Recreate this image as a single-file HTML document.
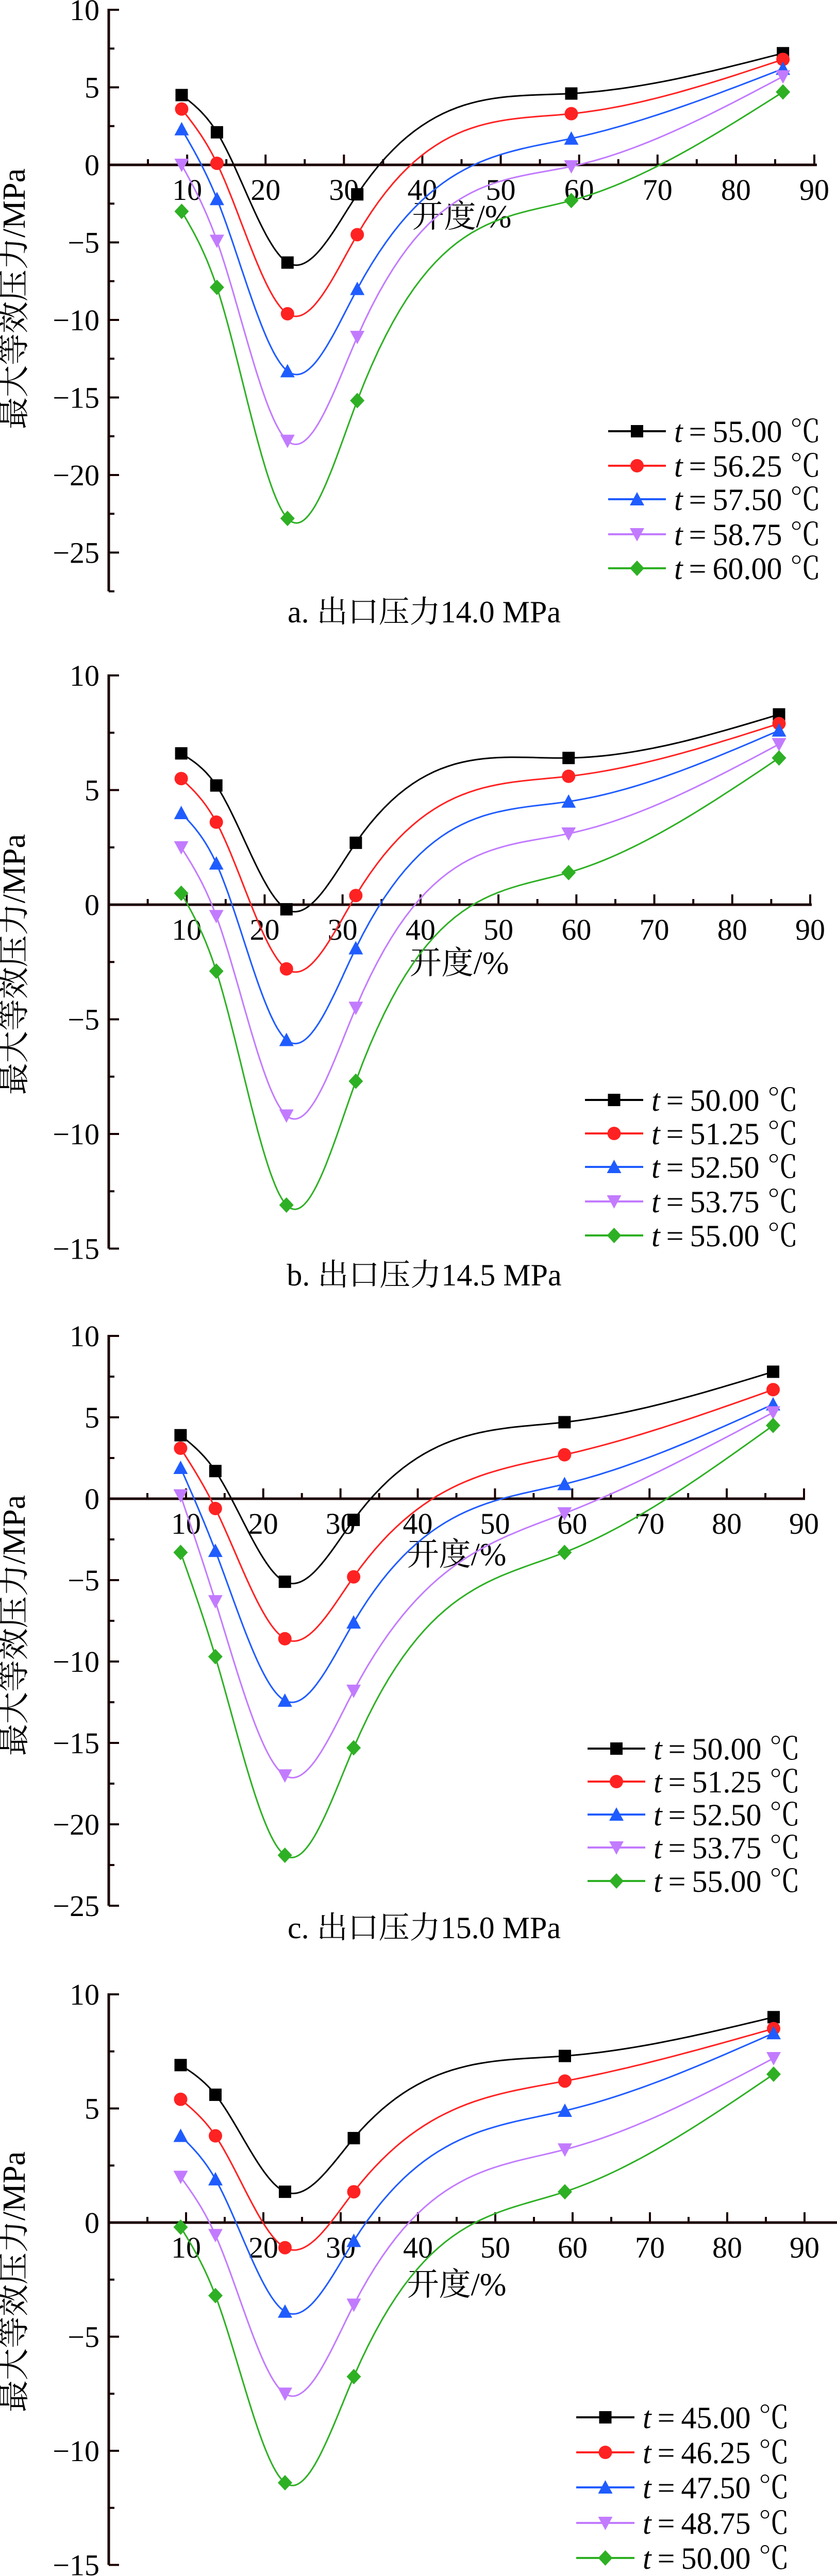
<!DOCTYPE html>
<html><head><meta charset="utf-8">
<style>
html,body{margin:0;padding:0;background:#fff;overflow:hidden;width:1624px;height:5086px;}
svg{display:block;}
text{font-family:"Liberation Serif","Noto Serif CJK SC",serif;fill:#000;}
</style></head>
<body>
<svg id="fig" width="1624" height="5086" viewBox="0 0 1624 5086" xmlns="http://www.w3.org/2000/svg" overflow="hidden"></svg>
<script>
// ---- data ----
const openings = [9.3, 13.8, 22.8, 31.7, 59, 86];
const xTicks = [10, 20, 30, 40, 50, 60, 70, 80, 90];

const aLabels = ["55.00", "56.25", "57.50", "58.75", "60.00"];
const aBlack = [4.5, 2.1, -6.3, -1.9, 4.6, 7.2];
const aRed = [3.6, 0.1, -9.6, -4.5, 3.3, 6.8];
const aBlue = [2.3, -2.2, -13.3, -8.0, 1.7, 6.2];
const aPurple = [0.0, -4.9, -17.8, -11.1, -0.1, 5.7];
const aGreen = [-3.0, -7.9, -22.8, -15.2, -2.3, 4.7];
const aYTicks = [10, 5, 0, -5, -10, -15, -20, -25];

const bLabels = ["50.00", "51.25", "52.50", "53.75", "55.00"];
const bBlack = [6.6, 5.2, -0.2, 2.7, 6.4, 8.3];
const bRed = [5.5, 3.6, -2.8, 0.4, 5.6, 7.9];
const bBlue = [4.0, 1.8, -5.9, -1.9, 4.5, 7.6];
const bPurple = [2.5, -0.5, -9.2, -4.5, 3.1, 7.0];
const bGreen = [0.5, -2.9, -13.1, -7.7, 1.4, 6.4];
const bYTicks = [10, 5, 0, -5, -10, -15];

const cLabels = ["50.00", "51.25", "52.50", "53.75", "55.00"];
const cBlack = [3.9, 1.7, -5.1, -1.3, 4.7, 7.8];
const cRed = [3.1, -0.6, -8.6, -4.8, 2.7, 6.7];
const cBlue = [1.9, -3.2, -12.4, -7.6, 0.9, 5.8];
const cPurple = [0.2, -6.3, -17.0, -11.8, -0.9, 5.3];
const cGreen = [-3.3, -9.7, -21.9, -15.3, -3.3, 4.5];
const cYTicks = [10, 5, 0, -5, -10, -15, -20, -25];

const dLabels = ["45.00", "46.25", "47.50", "48.75", "50.00"];
const dBlack = [6.9, 5.6, 1.35, 3.7, 7.3, 9.0];
const dRed = [5.4, 3.8, -1.1, 1.35, 6.2, 8.5];
const dBlue = [3.8, 1.9, -3.9, -0.8, 4.9, 8.3];
const dPurple = [2.0, -0.55, -7.5, -3.6, 3.2, 7.2];
const dGreen = [-0.2, -3.2, -11.4, -6.75, 1.35, 6.5];
const dYTicks = [10, 5, 0, -5, -10, -15];

const captions = ["a. 出口压力14.0 MPa", "b. 出口压力14.5 MPa", "c. 出口压力15.0 MPa", "d. 出口压力15.5 MPa"];

// ---- style / layout ----
const colors = ["#000000", "#ff2222", "#1f5cff", "#c27bff", "#2eb024"];
const shapes = ["square", "circle", "up", "down", "diamond"];
const NS = "http://www.w3.org/2000/svg";
const svg = document.getElementById("fig");

const layouts = [
  {id:"a", series:[aBlack,aRed,aBlue,aPurple,aGreen], labels:aLabels, yTicks:aYTicks,
   x0:211, x90:1580, yTop:10, yTopPx:19, zeroPx:320, yBottom:-27.5, axisEnd:1585,
   legX:1180, legLen:112, legY:[837,904,969,1037,1103], titleY:580, xtitle:[896,419], capY:1190},
  {id:"b", series:[bBlack,bRed,bBlue,bPurple,bGreen], labels:bLabels, yTicks:bYTicks,
   x0:211, x90:1572, yTop:10, yTopPx:1311, zeroPx:1756, yBottom:-15, axisEnd:1575,
   legX:1135, legLen:113, legY:[2135,2200,2265,2332,2398], titleY:1872, xtitle:[891,1868], capY:2477},
  {id:"c", series:[cBlack,cRed,cBlue,cPurple,cGreen], labels:cLabels, yTicks:cYTicks,
   x0:211, x90:1560, yTop:10, yTopPx:2593, zeroPx:2909, yBottom:-25, axisEnd:1562,
   legX:1140, legLen:112, legY:[3394,3458,3522,3586,3651], titleY:3155, xtitle:[886,3016], capY:3744},
  {id:"d", series:[dBlack,dRed,dBlue,dPurple,dGreen], labels:dLabels, yTicks:dYTicks,
   x0:211, x90:1561, yTop:10, yTopPx:3871, zeroPx:4314, yBottom:-15, axisEnd:1624,
   legX:1118, legLen:113, legY:[4692,4760,4828,4897,4965], titleY:4429, xtitle:[886,4433], capY:5052}
];

function el(tag, attrs, parent){
  const e = document.createElementNS(NS, tag);
  for (const k in attrs) e.setAttribute(k, attrs[k]);
  (parent||svg).appendChild(e);
  return e;
}

function spline(xs, ys){
  const n = xs.length, h=[], al=[], l=[1], mu=[0], z=[0], c=new Array(n).fill(0), b=[], d=[];
  for (let i=0;i<n-1;i++) h.push(xs[i+1]-xs[i]);
  for (let i=1;i<n-1;i++) al[i] = 3/h[i]*(ys[i+1]-ys[i]) - 3/h[i-1]*(ys[i]-ys[i-1]);
  for (let i=1;i<n-1;i++){ l[i]=2*(xs[i+1]-xs[i-1])-h[i-1]*mu[i-1]; mu[i]=h[i]/l[i]; z[i]=(al[i]-h[i-1]*z[i-1])/l[i]; }
  for (let j=n-2;j>=0;j--){ c[j]=z[j]-mu[j]*c[j+1]; b[j]=(ys[j+1]-ys[j])/h[j]-h[j]*(c[j+1]+2*c[j])/3; d[j]=(c[j+1]-c[j])/(3*h[j]); }
  const pts=[];
  for (let j=0;j<n-1;j++){
    for (let s=0;s<30;s++){ const t=h[j]*s/30; pts.push([xs[j]+t, ys[j]+b[j]*t+c[j]*t*t+d[j]*t*t*t]); }
  }
  pts.push([xs[n-1], ys[n-1]]);
  return pts;
}

function marker(shape, cx, cy, color, g, name){
  const r = 12; let m;
  if (shape==="square") m = el("rect",{x:cx-r,y:cy-r,width:2*r,height:2*r,fill:color},g);
  else if (shape==="circle") m = el("circle",{cx:cx,cy:cy,r:r+1,fill:color},g);
  else if (shape==="up") m = el("polygon",{points:`${cx},${cy-r-2} ${cx-r-2},${cy+r} ${cx+r+2},${cy+r}`,fill:color},g);
  else if (shape==="down") m = el("polygon",{points:`${cx},${cy+r+2} ${cx-r-2},${cy-r} ${cx+r+2},${cy-r}`,fill:color},g);
  else m = el("polygon",{points:`${cx},${cy-r-3} ${cx+r+2},${cy} ${cx},${cy+r+3} ${cx-r-2},${cy}`,fill:color},g);
  
  
  return m;
}

layouts.forEach((L, li) => {
  const unit = (L.zeroPx - L.yTopPx) / L.yTop;
  const X = v => L.x0 + (L.x90 - L.x0) * v / 90;
  const Y = v => L.zeroPx - v * unit;
  const g = el("g", {});
  
  

  const ya = el("line",{x1:L.x0,y1:Y(L.yTop)-2,x2:L.x0,y2:Y(L.yBottom),stroke:"#1a0000","stroke-width":5},g);
  
  
  for (let v=L.yTop; v>=L.yBottom-0.01; v-=2.5){
    const major = Math.abs(v/5 - Math.round(v/5))<1e-6;
    el("line",{x1:L.x0,y1:Y(v),x2:L.x0+(major?20:11),y2:Y(v),stroke:"#1a0000","stroke-width":4},g);
  }
  L.yTicks.forEach(v => {
    const t = el("text",{x:L.x0-18,y:Y(v)+20,"font-size":58,"text-anchor":"end"},g);
    t.textContent = v<0 ? "\u2212"+(-v) : String(v);
    
    
  });
  const xa = el("line",{x1:L.x0,y1:L.zeroPx,x2:L.axisEnd,y2:L.zeroPx,stroke:"#1a0000","stroke-width":5},g);
  
  
  for (let v=5; v<=90; v+=5){
    const major = v%10===0;
    el("line",{x1:X(v),y1:L.zeroPx,x2:X(v),y2:L.zeroPx-(major?20:11),stroke:"#1a0000","stroke-width":4},g);
  }
  xTicks.forEach(v => {
    const t = el("text",{x:X(v),y:L.zeroPx+68,"font-size":58,"text-anchor":"middle"},g);
    t.textContent = String(v);
    
    
  });
  const xt = el("text",{x:L.xtitle[0],y:L.xtitle[1]+22,"font-size":62,"text-anchor":"middle"},g);
  xt.textContent = "开度/%";
  
  
  const yt = el("text",{x:0,y:0,"font-size":62,"text-anchor":"middle",transform:`translate(48,${L.titleY}) rotate(-90)`},g);
  yt.textContent = "最大等效压力/MPa";
  
  

  L.series.forEach((vals, si) => {
    const sg = el("g",{},g);
    
    
    const pts = spline(openings.map(X), vals.map(Y));
    const p = el("path",{d:"M"+pts.map(q=>q[0].toFixed(1)+","+q[1].toFixed(1)).join("L"),fill:"none",stroke:colors[si],"stroke-width":3},sg);
    
    
    vals.forEach((v,i) => marker(shapes[si], X(openings[i]), Y(v), colors[si], sg, 'data-point'));
  });

  const lg = el("g",{},g);
  
  
  L.labels.forEach((lab, si) => {
    const y = L.legY[si];
    const eg = el("g",{},lg);
    
    
    el("line",{x1:L.legX,y1:y,x2:L.legX+L.legLen,y2:y,stroke:colors[si],"stroke-width":4},eg);
    marker(shapes[si], L.legX+L.legLen/2, y, colors[si], eg, 'legend-marker');
    const t = el("text",{x:L.legX+L.legLen+16,y:y+21,"font-size":60},eg);
    t.innerHTML = '<tspan font-style="italic">t</tspan>\u2009=\u2009' + lab + ' \u2103';
    
    
  });

  const cap = el("text",{x:823,y:L.capY+18,"font-size":60,"text-anchor":"middle"},g);
  cap.textContent = captions[li];
  
  
});
</script>
</body></html>
